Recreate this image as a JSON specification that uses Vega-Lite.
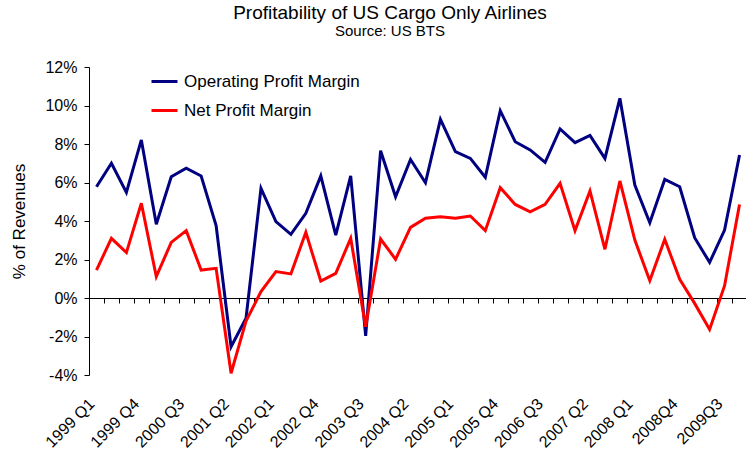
{
  "$schema": "https://vega.github.io/schema/vega-lite/v6.json",
  "width": 658,
  "height": 308,
  "autosize": {"type": "none"},
  "padding": {"left": 89, "top": 67, "right": 0, "bottom": 75},
  "background": "white",
  "title": {
    "text": "Profitability of US Cargo Only Airlines",
    "subtitle": "Source: US BTS",
    "font": "Liberation Sans",
    "fontSize": 19,
    "fontWeight": "normal",
    "color": "black",
    "subtitleFont": "Liberation Sans",
    "subtitleFontSize": 15,
    "subtitleColor": "black",
    "subtitlePadding": 1,
    "anchor": "middle",
    "dx": -28,
    "offset": 20
  },
  "config": {
    "view": {"stroke": null},
    "font": "Liberation Sans",
    "axis": {"grid": false, "domainColor": "#000", "tickColor": "#000", "labelColor": "#000", "titleColor": "#000"}
  },
  "data": {
    "values": [
      {"q": "1999 Q1", "s": "Operating Profit Margin", "v": 5.78}, {"q": "1999 Q1", "s": "Net Profit Margin", "v": 1.45},
      {"q": "1999 Q2", "s": "Operating Profit Margin", "v": 7.0}, {"q": "1999 Q2", "s": "Net Profit Margin", "v": 3.1},
      {"q": "1999 Q3", "s": "Operating Profit Margin", "v": 5.49}, {"q": "1999 Q3", "s": "Net Profit Margin", "v": 2.36},
      {"q": "1999 Q4", "s": "Operating Profit Margin", "v": 8.21}, {"q": "1999 Q4", "s": "Net Profit Margin", "v": 4.92},
      {"q": "2000 Q1", "s": "Operating Profit Margin", "v": 3.83}, {"q": "2000 Q1", "s": "Net Profit Margin", "v": 1.11},
      {"q": "2000 Q2", "s": "Operating Profit Margin", "v": 6.3}, {"q": "2000 Q2", "s": "Net Profit Margin", "v": 2.89},
      {"q": "2000 Q3", "s": "Operating Profit Margin", "v": 6.74}, {"q": "2000 Q3", "s": "Net Profit Margin", "v": 3.5},
      {"q": "2000 Q4", "s": "Operating Profit Margin", "v": 6.34}, {"q": "2000 Q4", "s": "Net Profit Margin", "v": 1.45},
      {"q": "2001 Q1", "s": "Operating Profit Margin", "v": 3.76}, {"q": "2001 Q1", "s": "Net Profit Margin", "v": 1.54},
      {"q": "2001 Q2", "s": "Operating Profit Margin", "v": -2.53}, {"q": "2001 Q2", "s": "Net Profit Margin", "v": -3.91},
      {"q": "2001 Q3", "s": "Operating Profit Margin", "v": -1.05}, {"q": "2001 Q3", "s": "Net Profit Margin", "v": -1.2},
      {"q": "2001 Q4", "s": "Operating Profit Margin", "v": 5.7}, {"q": "2001 Q4", "s": "Net Profit Margin", "v": 0.33},
      {"q": "2002 Q1", "s": "Operating Profit Margin", "v": 3.97}, {"q": "2002 Q1", "s": "Net Profit Margin", "v": 1.37},
      {"q": "2002 Q2", "s": "Operating Profit Margin", "v": 3.31}, {"q": "2002 Q2", "s": "Net Profit Margin", "v": 1.25},
      {"q": "2002 Q3", "s": "Operating Profit Margin", "v": 4.4}, {"q": "2002 Q3", "s": "Net Profit Margin", "v": 3.41},
      {"q": "2002 Q4", "s": "Operating Profit Margin", "v": 6.34}, {"q": "2002 Q4", "s": "Net Profit Margin", "v": 0.88},
      {"q": "2003 Q1", "s": "Operating Profit Margin", "v": 3.27}, {"q": "2003 Q1", "s": "Net Profit Margin", "v": 1.28},
      {"q": "2003 Q2", "s": "Operating Profit Margin", "v": 6.34}, {"q": "2003 Q2", "s": "Net Profit Margin", "v": 3.1},
      {"q": "2003 Q3", "s": "Operating Profit Margin", "v": -1.97}, {"q": "2003 Q3", "s": "Net Profit Margin", "v": -1.49},
      {"q": "2003 Q4", "s": "Operating Profit Margin", "v": 7.65}, {"q": "2003 Q4", "s": "Net Profit Margin", "v": 3.06},
      {"q": "2004 Q1", "s": "Operating Profit Margin", "v": 5.26}, {"q": "2004 Q1", "s": "Net Profit Margin", "v": 2.01},
      {"q": "2004 Q2", "s": "Operating Profit Margin", "v": 7.2}, {"q": "2004 Q2", "s": "Net Profit Margin", "v": 3.67},
      {"q": "2004 Q3", "s": "Operating Profit Margin", "v": 5.99}, {"q": "2004 Q3", "s": "Net Profit Margin", "v": 4.14},
      {"q": "2004 Q4", "s": "Operating Profit Margin", "v": 9.28}, {"q": "2004 Q4", "s": "Net Profit Margin", "v": 4.22},
      {"q": "2005 Q1", "s": "Operating Profit Margin", "v": 7.6}, {"q": "2005 Q1", "s": "Net Profit Margin", "v": 4.14},
      {"q": "2005 Q2", "s": "Operating Profit Margin", "v": 7.25}, {"q": "2005 Q2", "s": "Net Profit Margin", "v": 4.26},
      {"q": "2005 Q3", "s": "Operating Profit Margin", "v": 6.27}, {"q": "2005 Q3", "s": "Net Profit Margin", "v": 3.5},
      {"q": "2005 Q4", "s": "Operating Profit Margin", "v": 9.73}, {"q": "2005 Q4", "s": "Net Profit Margin", "v": 5.73},
      {"q": "2006 Q1", "s": "Operating Profit Margin", "v": 8.12}, {"q": "2006 Q1", "s": "Net Profit Margin", "v": 4.86},
      {"q": "2006 Q2", "s": "Operating Profit Margin", "v": 7.69}, {"q": "2006 Q2", "s": "Net Profit Margin", "v": 4.48},
      {"q": "2006 Q3", "s": "Operating Profit Margin", "v": 7.05}, {"q": "2006 Q3", "s": "Net Profit Margin", "v": 4.86},
      {"q": "2006 Q4", "s": "Operating Profit Margin", "v": 8.78}, {"q": "2006 Q4", "s": "Net Profit Margin", "v": 5.96},
      {"q": "2007 Q1", "s": "Operating Profit Margin", "v": 8.07}, {"q": "2007 Q1", "s": "Net Profit Margin", "v": 3.5},
      {"q": "2007 Q2", "s": "Operating Profit Margin", "v": 8.45}, {"q": "2007 Q2", "s": "Net Profit Margin", "v": 5.56},
      {"q": "2007 Q3", "s": "Operating Profit Margin", "v": 7.25}, {"q": "2007 Q3", "s": "Net Profit Margin", "v": 2.53},
      {"q": "2007 Q4", "s": "Operating Profit Margin", "v": 10.37}, {"q": "2007 Q4", "s": "Net Profit Margin", "v": 6.08},
      {"q": "2008 Q1", "s": "Operating Profit Margin", "v": 5.87}, {"q": "2008 Q1", "s": "Net Profit Margin", "v": 3.01},
      {"q": "2008 Q2", "s": "Operating Profit Margin", "v": 3.91}, {"q": "2008 Q2", "s": "Net Profit Margin", "v": 0.9},
      {"q": "2008 Q3", "s": "Operating Profit Margin", "v": 6.16}, {"q": "2008 Q3", "s": "Net Profit Margin", "v": 3.05},
      {"q": "2008Q4", "s": "Operating Profit Margin", "v": 5.78}, {"q": "2008Q4", "s": "Net Profit Margin", "v": 0.97},
      {"q": "2009Q1", "s": "Operating Profit Margin", "v": 3.13}, {"q": "2009Q1", "s": "Net Profit Margin", "v": -0.28},
      {"q": "2009Q2", "s": "Operating Profit Margin", "v": 1.85}, {"q": "2009Q2", "s": "Net Profit Margin", "v": -1.63},
      {"q": "2009Q3", "s": "Operating Profit Margin", "v": 3.53}, {"q": "2009Q3", "s": "Net Profit Margin", "v": 0.64},
      {"q": "2009Q4", "s": "Operating Profit Margin", "v": 7.43}, {"q": "2009Q4", "s": "Net Profit Margin", "v": 4.86}
    ]
  },
  "encoding": {
    "y": {
      "field": "v", "type": "quantitative",
      "scale": {"domain": [-4, 12], "nice": false, "zero": false},
      "axis": {
        "values": [-4, -2, 0, 2, 4, 6, 8, 10, 12],
        "labelExpr": "datum.value + '%'",
        "title": "% of Revenues",
        "titleFontSize": 17, "titleFontWeight": "normal",
        "labelFontSize": 16, "tickSize": 5, "labelPadding": 7, "titlePadding": 16
      }
    },
    "color": {
      "field": "s", "type": "nominal",
      "scale": {"domain": ["Operating Profit Margin", "Net Profit Margin"], "range": ["#000080", "#FF0000"]},
      "legend": {
        "orient": "none", "legendX": 61, "legendY": 0, "title": null, "padding": 0,
        "symbolType": "stroke", "symbolSize": 676, "symbolStrokeWidth": 3,
        "labelFontSize": 17, "labelOffset": 5, "rowPadding": 6, "labelColor": "#000", "labelLimit": 400
      }
    }
  },
  "layer": [
    {
      "transform": [{"filter": "datum.s === 'Operating Profit Margin'"}],
      "mark": {"type": "line", "strokeWidth": 3},
      "encoding": {
        "x": {
          "field": "q", "type": "ordinal", "sort": null,
          "scale": {"type": "point", "padding": 0.5},
          "axis": {"orient": "bottom", "offset": -77, "labels": false, "title": null, "tickSize": 5, "tickOffset": -7.477, "domainColor": "#000"}
        }
      }
    },
    {
      "transform": [{"filter": "datum.s === 'Net Profit Margin'"}],
      "mark": {"type": "line", "strokeWidth": 3},
      "encoding": {
        "x": {
          "field": "q", "type": "ordinal", "sort": null,
          "scale": {"type": "point", "padding": 0.5},
          "axis": {
            "orient": "bottom", "offset": 0, "domain": false, "ticks": false, "title": null,
            "values": ["1999 Q1", "1999 Q4", "2000 Q3", "2001 Q2", "2002 Q1", "2002 Q4", "2003 Q3", "2004 Q2", "2005 Q1", "2005 Q4", "2006 Q3", "2007 Q2", "2008 Q1", "2008Q4", "2009Q3"],
            "labelAngle": -45, "labelAlign": "right", "labelBaseline": "middle",
            "labelFontSize": 16, "labelPadding": 26, "labelOffset": -5, "labelOverlap": false
          }
        }
      }
    }
  ],
  "resolve": {"axis": {"x": "independent"}}
}
